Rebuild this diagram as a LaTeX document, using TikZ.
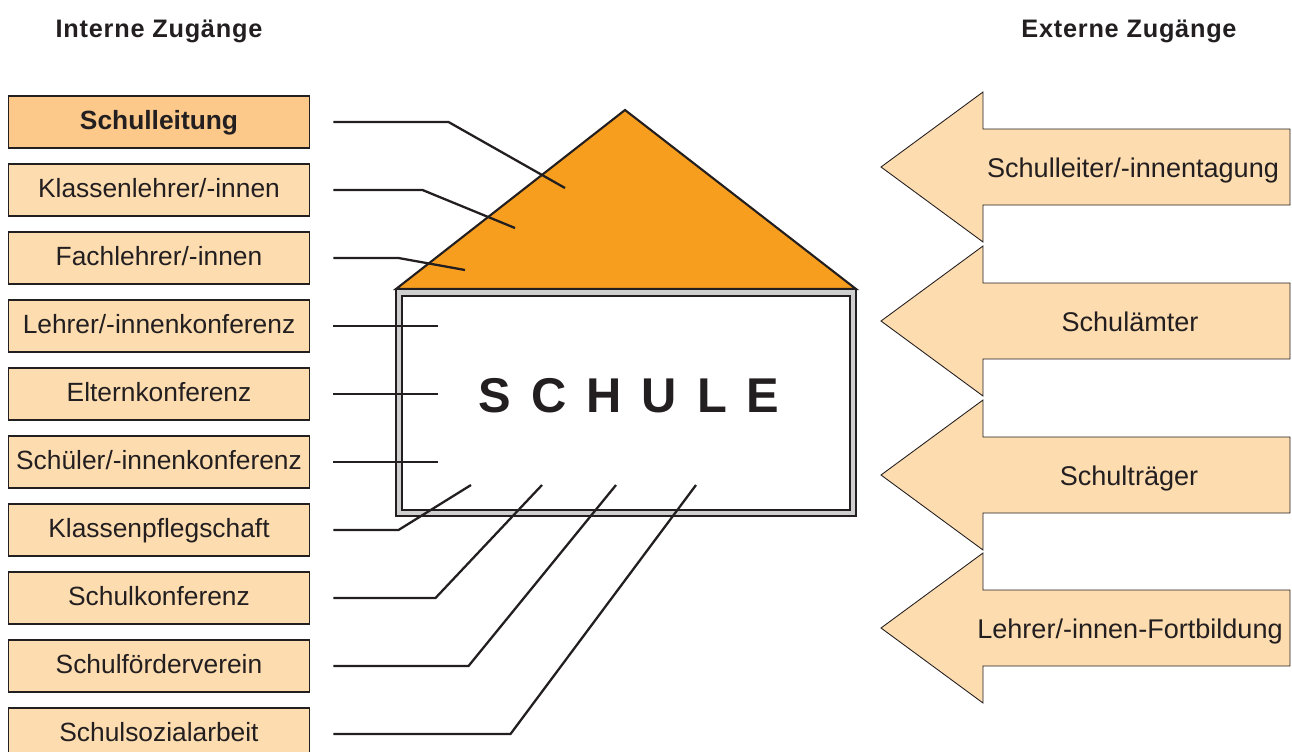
\documentclass[tikz,border=0pt]{standalone}
\usepackage{fontspec}
\setmainfont{Liberation Sans}

\definecolor{boxfill}{HTML}{FDDCB0}
\definecolor{headfill}{HTML}{FCC98A}
\definecolor{roof}{HTML}{F79E1E}
\definecolor{ink}{HTML}{231F20}
\definecolor{wall}{HTML}{CFCFCF}

\tikzset{
  intern/.style={draw=ink, line width=0.6pt, fill=boxfill, minimum width=6.04cm,
    minimum height=1.04cm, inner sep=0pt, text=ink, text height=11.2pt, text depth=3.1pt,
    font=\fontsize{15}{18}\selectfont},
  extern/.style={draw=ink, line width=0.5pt, fill=boxfill, line join=miter},
  externtext/.style={inner sep=0pt, text=ink, text height=11.2pt, text depth=3.1pt,
    font=\fontsize{15.4}{18}\selectfont},
  heading/.style={text=ink, inner sep=0pt, font=\fontsize{14.4}{17}\selectfont\bfseries\addfontfeature{LetterSpace=3}},
  link/.style={draw=ink, line width=1.3pt, shorten <=0.46cm},
}

\begin{document}
\begin{tikzpicture}[x=0.02cm, y=-0.02cm]
\clip (0,0) rectangle (1292,751);

% headings
\node[heading] (hin) at (159,31) {Interne Zugänge};
\node[heading] (hex) at (1129,31) {Externe Zugänge};

% the house
\filldraw[fill=roof, draw=ink, line width=1.2pt, line join=miter] (396,289) -- (625,110) -- (856,289) -- cycle;
\filldraw[fill=wall, draw=ink, line width=1.2pt] (396,289) rectangle (856,516);
\filldraw[fill=white, draw=ink, line width=0.7pt] (402,296) rectangle (850,510);
\node[text=ink, inner sep=0pt, font=\fontsize{27.8}{30}\selectfont\bfseries\addfontfeature{LetterSpace=41}] (schule) at (629,396) {SCHULE};

% internal boxes
\node[intern, fill=headfill, font=\fontsize{15}{18}\selectfont\bfseries] (b1) at (159,122) {Schulleitung};
\node[intern] (b2) at (159,190) {Klassenlehrer/-innen};
\node[intern] (b3) at (159,258) {Fachlehrer/-innen};
\node[intern] (b4) at (159,326) {Lehrer/-innenkonferenz};
\node[intern] (b5) at (159,394) {Elternkonferenz};
\node[intern] (b6) at (159,462) {Schüler/-innenkonferenz};
\node[intern] (b7) at (159,530) {Klassenpflegschaft};
\node[intern] (b8) at (159,598) {Schulkonferenz};
\node[intern] (b9) at (159,666) {Schulförderverein};
\node[intern] (b10) at (159,734) {Schulsozialarbeit};

% connector ends inside the house
\coordinate (e1) at (565,188);
\coordinate (e2) at (515,228);
\coordinate (e3) at (465,270);
\coordinate (e4) at (438,326);
\coordinate (e5) at (438,394);
\coordinate (e6) at (438,462);
\coordinate (e7) at (471,485);
\coordinate (e8) at (542,485);
\coordinate (e9) at (616,485);
\coordinate (e10) at (696,485);

\draw[link] (b1.east) -- ++(138,0) -- (e1);
\draw[link] (b2.east) -- ++(112,0) -- (e2);
\draw[link] (b3.east) -- ++(88,0) -- (e3);
\draw[link] (b4.east) -- (e4);
\draw[link] (b5.east) -- (e5);
\draw[link] (b6.east) -- (e6);
\draw[link] (b7.east) -- ++(88,0) -- (e7);
\draw[link] (b8.east) -- ++(125,0) -- (e8);
\draw[link] (b9.east) -- ++(158,0) -- (e9);
\draw[link] (b10.east) -- ++(200,0) -- (e10);

% external arrows
\draw[extern] (881,167) -- ++(102,-75) -- ++(0,37) -- ++(307,0) -- ++(0,76) -- ++(-307,0) -- ++(0,37) -- cycle;
\draw[extern] (881,321) -- ++(102,-75) -- ++(0,37) -- ++(307,0) -- ++(0,76) -- ++(-307,0) -- ++(0,37) -- cycle;
\draw[extern] (881,475) -- ++(102,-75) -- ++(0,37) -- ++(307,0) -- ++(0,76) -- ++(-307,0) -- ++(0,37) -- cycle;
\draw[extern] (881,628) -- ++(102,-75) -- ++(0,37) -- ++(307,0) -- ++(0,76) -- ++(-307,0) -- ++(0,37) -- cycle;
\node[externtext] (x1) at (1133,170) {Schulleiter/-innentagung};
\node[externtext] (x2) at (1130,324) {Schulämter};
\node[externtext] (x3) at (1129,478) {Schulträger};
\node[externtext] (x4) at (1130,631) {Lehrer/-innen-Fortbildung};
\end{tikzpicture}
\end{document}
